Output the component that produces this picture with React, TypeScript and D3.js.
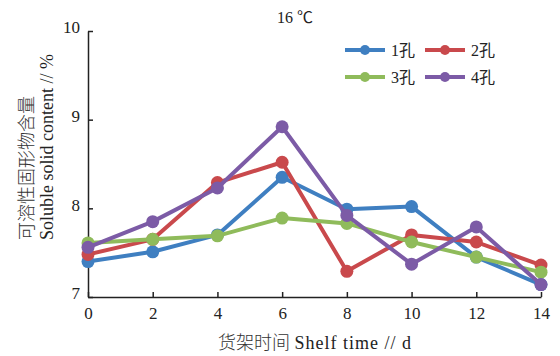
import React, { useEffect, useRef } from "react";
import * as d3 from "d3";

const days = [0, 2, 4, 6, 8, 10, 12, 14];
const hole1 = [7.4, 7.51, 7.7, 8.35, 7.99, 8.02, 7.45, 7.14];
const hole2 = [7.48, 7.65, 8.29, 8.52, 7.29, 7.7, 7.62, 7.36];
const hole3 = [7.61, 7.65, 7.69, 7.89, 7.83, 7.62, 7.45, 7.28];
const hole4 = [7.56, 7.85, 8.23, 8.92, 7.92, 7.37, 7.79, 7.14];
const seriesNames = ["1孔", "2孔", "3孔", "4孔"];
const yTicks = [7, 8, 9, 10];

const colors = ["#3f7fc1", "#c9494c", "#8fbb5b", "#7c5ba6"];

export default function App() {
  const ref = useRef<SVGSVGElement>(null);

  useEffect(() => {
    const svg = d3.select(ref.current);
    svg.selectAll("*").remove();
    const width = 560;
    const height = 356;
    const margin = { left: 88, top: 31, right: 19, bottom: 59 };
    const innerW = width - margin.left - margin.right;
    const innerH = height - margin.top - margin.bottom;
    const serif = "'Liberation Serif', 'Noto Sans CJK SC', serif";

    const x = d3.scaleLinear().domain([0, 14]).range([0, innerW]);
    const y = d3.scaleLinear().domain([7, 10]).range([innerH, 0]);

    const g = svg.append("g").attr("transform", `translate(${margin.left},${margin.top})`);

    const xAxisG = g
      .append("g")
      .attr("transform", `translate(0,${innerH})`)
      .call(d3.axisBottom(x).tickValues(days).tickFormat(d3.format("d")).tickSizeInner(-5).tickSizeOuter(0).tickPadding(10));
    const yAxisG = g
      .append("g")
      .call(d3.axisLeft(y).tickValues(yTicks).tickFormat(d3.format("d")).tickSizeInner(-5).tickSizeOuter(0).tickPadding(8));

    [xAxisG, yAxisG].forEach((a) => {
      a.attr("font-family", null).attr("font-size", null);
      a.select(".domain").attr("stroke", "#222").attr("stroke-width", 1.5);
      a.selectAll(".tick line").attr("stroke", "#222").attr("stroke-width", 1.5);
      a.selectAll(".tick text")
        .attr("fill", "#222")
        .style("font-family", serif)
        .style("font-size", "17px");
    });
    yAxisG.selectAll(".tick text").attr("dy", "0.1em");

    const all = [hole1, hole2, hole3, hole4];
    const line = d3
      .line<number>()
      .x((_, i) => x(days[i]))
      .y((d) => y(d));

    all.forEach((vals, k) => {
      g.append("path")
        .datum(vals)
        .attr("d", line)
        .attr("fill", "none")
        .attr("stroke", colors[k])
        .attr("stroke-width", 4)
        .attr("stroke-linejoin", "round");
      g.selectAll(null)
        .data(vals)
        .enter()
        .append("circle")
        .attr("cx", (_, i) => x(days[i]))
        .attr("cy", (d) => y(d))
        .attr("r", 6.5)
        .attr("fill", colors[k]);
    });

    // title
    svg
      .append("text")
      .attr("x", 295)
      .attr("y", 23)
      .attr("text-anchor", "middle")
      .style("font-family", serif)
      .style("font-size", "16px")
      .attr("fill", "#222")
      .text("16 ℃");

    // legend
    const leg = svg.append("g");
    seriesNames.forEach((name, k) => {
      const lx = 345 + (k % 2) * 80;
      const ly = 50 + Math.floor(k / 2) * 27;
      leg.append("line")
        .attr("x1", lx).attr("x2", lx + 40)
        .attr("y1", ly).attr("y2", ly)
        .attr("stroke", colors[k]).attr("stroke-width", 4);
      leg.append("circle").attr("cx", lx + 20).attr("cy", ly).attr("r", 5).attr("fill", colors[k]);
      leg.append("text")
        .attr("x", lx + 46)
        .attr("y", ly + 6)
        .style("font-family", serif)
        .style("font-size", "16px")
        .attr("fill", "#222")
        .text(name);
    });

    // y label
    const yl = svg.append("g").attr("transform", "rotate(-90)");
    yl.append("text")
      .attr("x", -240)
      .attr("y", 33)
      .style("font-family", serif)
      .style("font-size", "18px")
      .style("font-weight", 300)
      .attr("fill", "#333")
      .text("可溶性固形物含量");
    yl.append("text")
      .attr("x", -240)
      .attr("y", 53)
      .style("font-family", serif)
      .style("font-size", "18px")
      .attr("fill", "#222")
      .text("Soluble solid content // %");

    // x label
    const xl = svg
      .append("text")
      .attr("x", 315)
      .attr("y", 349)
      .attr("text-anchor", "middle")
      .style("font-family", serif)
      .style("font-size", "18px")
      .attr("fill", "#222");
    xl.append("tspan").style("font-weight", 300).attr("fill", "#333").text("货架时间 ");
    xl.append("tspan").style("letter-spacing", "1px").text("Shelf time // d");
  }, []);

  return <svg ref={ref} width={560} height={356} style={{ display: "block", position: "absolute", left: 0, top: 0 }} />;
}
